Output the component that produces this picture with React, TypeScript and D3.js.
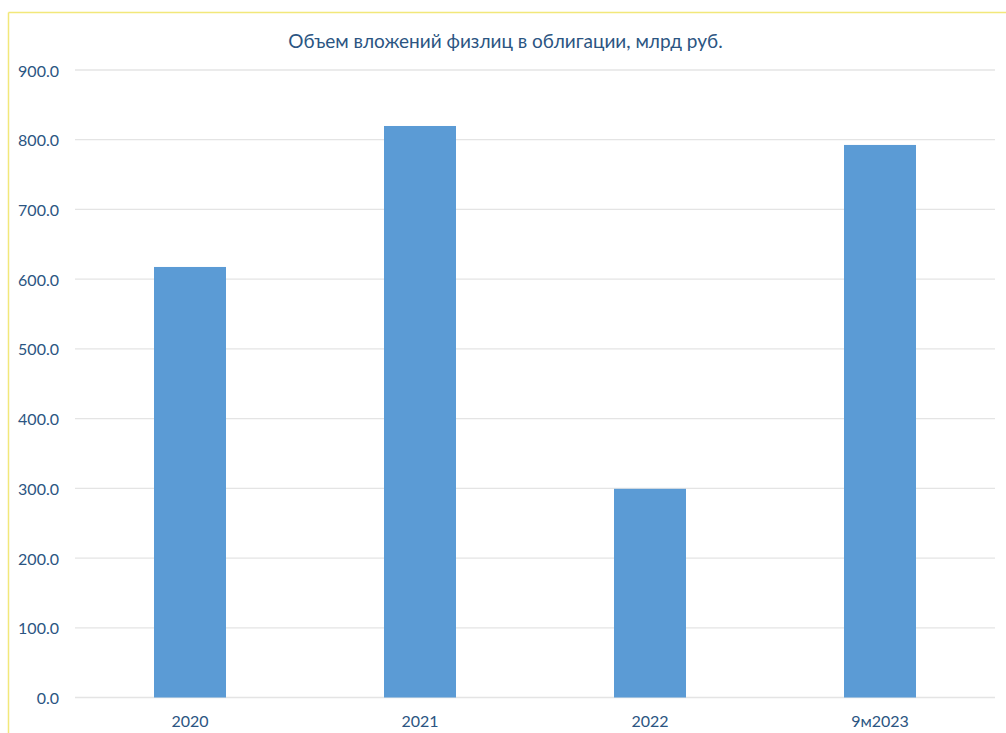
import React from "react";
import * as d3 from "d3";

const categories = ["2020", "2021", "2022", "9м2023"];
const values = [617.5, 819.7, 299.3, 792.5];
const yTicks = [0, 100, 200, 300, 400, 500, 600, 700, 800, 900];
const title = "Объем вложений физлиц в облигации, млрд руб.";

export default function App() {
  const W = 1006, H = 733;
  const left = 75, right = 995, top = 70, bottom = 697.5;
  const x = d3.scaleBand<string>().domain(categories).range([left, right]).paddingInner(0.687).paddingOuter(0.3435);
  const y = d3.scaleLinear().domain([0, 900]).range([bottom, top]);
  const textColor = "#2B5582";
  const font = "Lato, 'Open Sans', sans-serif";
  return (
    <svg width={W} height={H} style={{ position: "absolute", left: 0, top: 0, background: "#fff" }}>
      <rect x={0} y={0} width={W} height={H} fill="#fff" />
      <line x1={8.5} y1={12.5} x2={W} y2={12.5} stroke="#F2E87A" strokeWidth={1.5} />
      <line x1={8.5} y1={12.5} x2={8.5} y2={H} stroke="#F2E87A" strokeWidth={1.5} />
      <text x={505.5} y={40} textAnchor="middle" dominantBaseline="central" fill={textColor} fontFamily={font} fontSize={19}>
        {title}
      </text>
      {yTicks.map((t) => (
        <g key={t}>
          <line x1={left} x2={right} y1={y(t)} y2={y(t)} stroke="#E4E4E4" strokeWidth={1.3} />
          <text x={59} y={y(t)} textAnchor="end" dominantBaseline="central" fill={textColor} fontFamily={font} fontSize={16}>
            {t.toFixed(1)}
          </text>
        </g>
      ))}
      {categories.map((c, i) => (
        <g key={c}>
          <rect x={x(c)} y={y(values[i])} width={x.bandwidth()} height={bottom - y(values[i])} fill="#5B9BD5" />
          <text x={(x(c) as number) + x.bandwidth() / 2} y={720} textAnchor="middle" dominantBaseline="central" fill={textColor} fontFamily={font} fontSize={16}>
            {c}
          </text>
        </g>
      ))}
    </svg>
  );
}
